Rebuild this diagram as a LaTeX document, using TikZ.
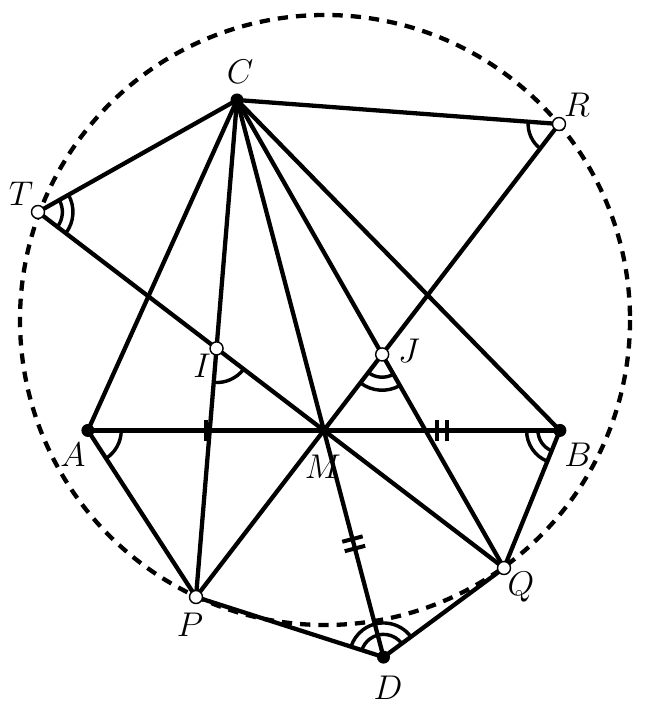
\documentclass[tikz,border=0pt]{standalone}
\usepackage{amsmath,amssymb}
\usepackage{tikz}
\usetikzlibrary{calc,                 % Calculs de coordonnées entre $ $
           angles}                    % Marques d'angles
\newcommand{\simplebarre}{\tikz\draw[line width=1.4pt](0,-0.13cm)--(0,0.13cm);}
\newcommand{\doublebarre}{\tikz\draw[line width=1.4pt](0,-0.13cm)--(0,0.13cm)(0.12cm,-0.13cm)--(0.12cm,0.13cm);}
\tikzset{trait/.style={line width=1.5pt},
         pointilles/.style={line width=1.5pt,dash pattern=on 3.6pt off 2.8pt},
         plein/.style={circle,fill,inner sep=0,minimum size=1.6mm},
         vide/.style={circle,draw,fill=white,inner sep=0,minimum size=1.6mm,line width=0.5pt},
         arc/.style={draw,line width=1.2pt,angle radius=#1}}
\begin{document}
\begin{tikzpicture}[x=0.0123cm,y=-0.0123cm,font=\fontsize{13}{15}\selectfont]
\useasboundingbox(0,0)rectangle(648,709);
\coordinate(C)at(237,100);
\coordinate(R)at(559,124);
\coordinate(T)at(38,212);
\coordinate(P)at(196,597);
\coordinate(Q)at(504,568);
\coordinate(M)at(intersection of T--Q and R--P);
\coordinate(A)at($(M)+(-236,0)$);
\coordinate(B)at($(M)+(236,0)$);
\coordinate(D)at($(C)!1.686!(M)$);
\coordinate(I)at(intersection of T--Q and C--P);
\coordinate(J)at(intersection of R--P and C--Q);
\draw[pointilles](325,320)circle(305);
\draw[trait](C)--(R);
\draw[trait](C)--(T);
\draw[trait](T)--(Q);
\draw[trait](R)--(P);
\draw[trait](C)--(A);
\draw[trait](C)--(P);
\draw[trait](C)--(D);
\draw[trait](C)--(Q);
\draw[trait](C)--(B);
\draw[trait](A)--(B);
\draw[trait](A)--(P)--(D)--(Q)--(B);
\pic[arc=0.3cm]{angle=M--T--C};
\pic[arc=0.43cm]{angle=M--T--C};
\pic[arc=0.38cm]{angle=C--R--M};
\pic[arc=0.42cm]{angle=P--I--M};
\pic[arc=0.28cm]{angle=M--J--Q};
\pic[arc=0.44cm]{angle=M--J--Q};
\pic[arc=0.41cm]{angle=P--A--B};
\pic[arc=0.27cm]{angle=A--B--Q};
\pic[arc=0.41cm]{angle=A--B--Q};
\pic[arc=0.28cm]{angle=Q--D--P};
\pic[arc=0.42cm]{angle=Q--D--P};
\path(A)--(M)node[midway,sloped,inner sep=0](b1){\simplebarre};
\path(M)--(B)node[midway,sloped,inner sep=0](b2){\doublebarre};
\path(M)--(D)node[midway,sloped,inner sep=0](b3){\doublebarre};
\node[plein](nC)at(C){};
\node[plein](nA)at(A){};
\node[plein](nB)at(B){};
\node[plein](nD)at(D){};
\node[plein,minimum size=1.2mm](nM)at(M){};
\node[vide](nR)at(R){};
\node[vide](nT)at(T){};
\node[vide](nI)at(I){};
\node[vide](nJ)at(J){};
\node[vide](nP)at(P){};
\node[vide](nQ)at(Q){};
\node[](lC)at(240,72){$C$};
\node[](lR)at(577,105){$R$};
\node[](lT)at(21,194){$T$};
\node[](lI)at(202,366){$I$};
\node[](lJ)at(409,351){$J$};
\node[](lA)at(73,455){$A$};
\node[](lB)at(578,455){$B$};
\node[](lM)at(323,467){$M$};
\node[](lP)at(190,625){$P$};
\node[](lQ)at(521,587){$Q$};
\node[](lD)at(388,688){$D$};
\end{tikzpicture}
\end{document}
